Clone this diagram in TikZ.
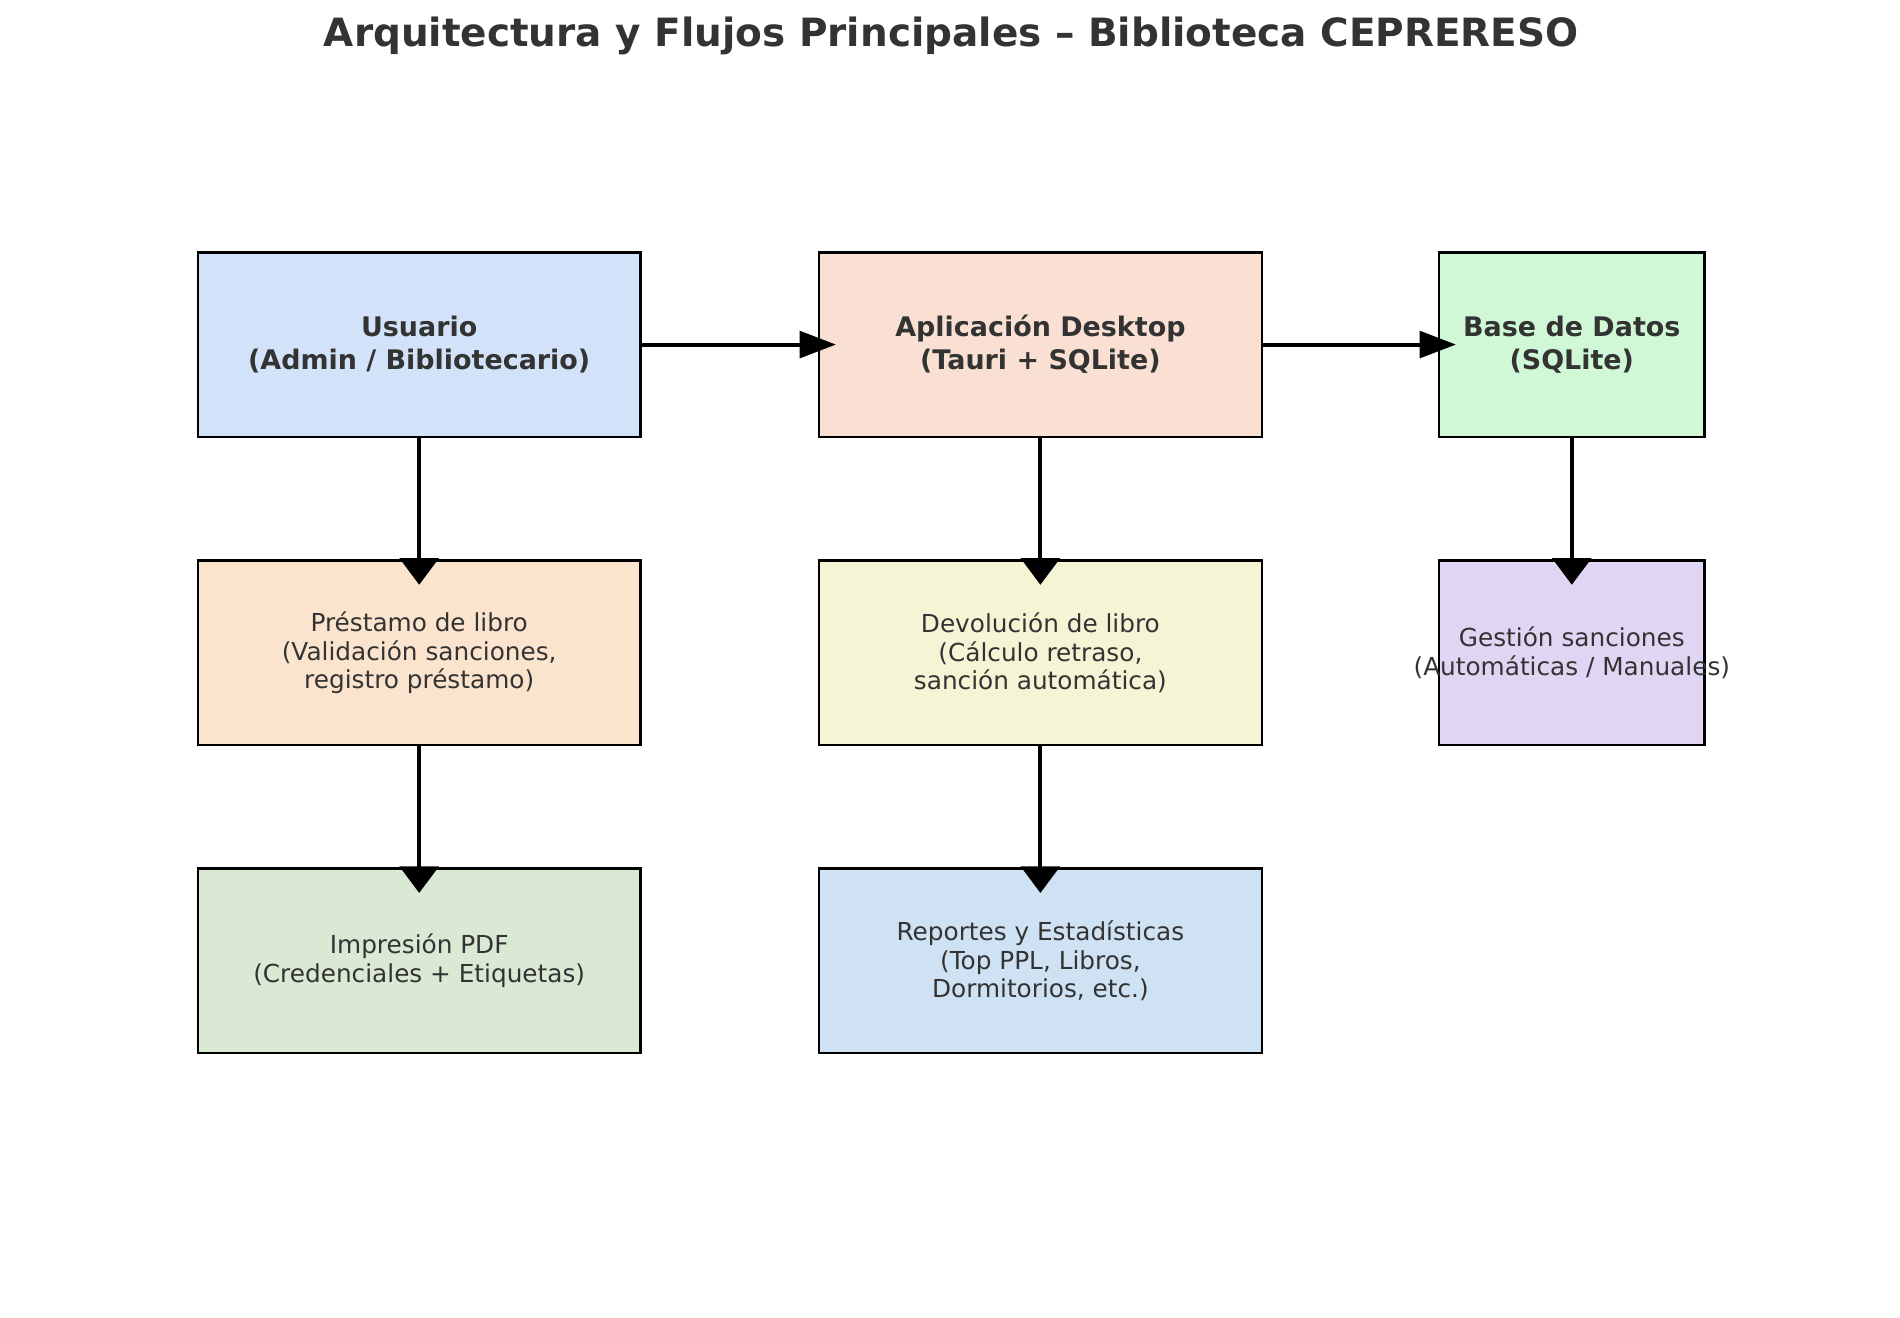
\documentclass[tikz,border=0pt]{standalone}
\usepackage{fontspec}
\setmainfont{DejaVu Sans}
\usepackage{xcolor}
\usetikzlibrary{arrows.meta,positioning}

\definecolor{txtgray}{HTML}{333333}
\definecolor{usrblue}{HTML}{D2E2F8}
\definecolor{apppeach}{HTML}{F9E0D2}
\definecolor{dbgreen}{HTML}{D0F8D6}
\definecolor{loanorange}{HTML}{FBE4CE}
\definecolor{retyellow}{HTML}{F5F5D5}
\definecolor{sanclilac}{HTML}{E0D6F4}
\definecolor{pdfgreen}{HTML}{D9E9D3}
\definecolor{repblue}{HTML}{CFE2F3}

\begin{document}
\begin{tikzpicture}[x=1pt,y=1pt,
	box/.style={draw=black, line width=2pt, minimum width=365pt, minimum height=152pt,
		inner sep=0pt, align=center, text=txtgray, font=\fontsize{20.4}{23.7}\selectfont},
	bbox/.style={box, font=\fontsize{22.2}{27}\selectfont\bfseries},
	harrow/.style={line width=3.3pt, -{Triangle[length=30pt,width=22pt]}},
	varrow/.style={line width=3.3pt, -{Triangle[length=22pt,width=32pt]}}]
	\useasboundingbox (0,0) rectangle (1566,1086);
	
	% Title
	\node[text=txtgray, font=\fontsize{32.1}{36}\selectfont\bfseries] (title) at (784,1056)
		{Arquitectura y Flujos Principales – Biblioteca CEPRERESO};
	
	% Top row
	\node[bbox, fill=usrblue] (usr) at (345.5,802) {Usuario\\(Admin / Bibliotecario)};
	\node[bbox, fill=apppeach] (app) at (857.5,802) {Aplicación Desktop\\(Tauri + SQLite)};
	\node[bbox, fill=dbgreen, minimum width=219pt] (db) at (1295.5,802) {Base de Datos\\(SQLite)};
	
	% Middle row
	\node[box, fill=loanorange] (loan) at (345.5,548)
		{Préstamo de libro\\(Validación sanciones,\\registro préstamo)};
	\node[box, fill=retyellow] (ret) at (857.5,548)
		{Devolución de libro\\(Cálculo retraso,\\sanción automática)};
	\node[box, fill=sanclilac, minimum width=219pt] (sanc) at (1295.5,548)
		{\makebox[0pt]{Gestión sanciones}\\\makebox[0pt]{(Automáticas / Manuales)}};
	
	% Bottom row
	\node[box, fill=pdfgreen] (pdf) at (345.5,294)
		{Impresión PDF\\(Credenciales + Etiquetas)};
	\node[box, fill=repblue] (rep) at (857.5,294)
		{Reportes y Estadísticas\\(Top PPL, Libros,\\Dormitorios, etc.)};
	
	% Flows
	\draw[harrow] (usr.east) -- ([xshift=15pt]app.west);
	\draw[harrow] (app.east) -- ([xshift=15pt]db.west);
	\draw[varrow] (usr.south) -- ([yshift=-21pt]loan.north);
	\draw[varrow] (app.south) -- ([yshift=-21pt]ret.north);
	\draw[varrow] (db.south) -- ([yshift=-21pt]sanc.north);
	\draw[varrow] (loan.south) -- ([yshift=-21pt]pdf.north);
	\draw[varrow] (ret.south) -- ([yshift=-21pt]rep.north);
\end{tikzpicture}
\end{document}
